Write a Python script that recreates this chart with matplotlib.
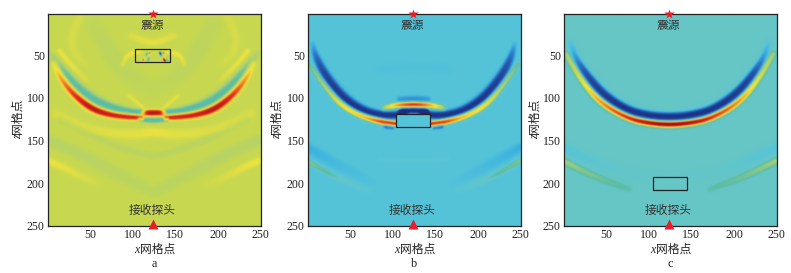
import numpy as np
import matplotlib
matplotlib.use("Agg")
import matplotlib.pyplot as plt
from matplotlib.colors import LinearSegmentedColormap
from matplotlib.patches import Rectangle

plt.rcParams['font.family'] = ['Liberation Serif', 'Noto Sans CJK SC']

panel_names = ['a', 'b', 'c']
tick_values = [50, 100, 150, 200, 250]
source_label = '震源'
receiver_label = '接收探头'
axis_suffix = '网格点'
source_x, source_z = 124, 1
receiver_x, receiver_z = 124, 249
boxes = {'a': (103, 43, 41, 15), 'b': (104, 118.5, 40, 15.5), 'c': (104.5, 193, 40, 15.5)}
backgrounds = {'a': 0.585, 'b': 0.33, 'c': 0.40}

# Wavefronts: x, z, value offset, half-width; True = mirrored about the centre
bands_a = [
    ([8, 18, 33, 53, 76, 96, 110], [59, 79, 97, 113, 120, 122, 123], [.12, .24, .33, .38, .33, .33, .30], [2.4, 3, 3.4, 3.4, 2.8, 2.6, 2.2], True),
    ([114, 124, 135], [117, 117, 117], [.33, .38, .33], [2.6, 2.8, 2.6], False),
    ([2, 18, 37, 61, 92, 112], [46, 68, 90, 106, 115, 116], [-.03, -.15, -.165, -.165, -.165, -.165], [2.8, 4, 5, 4.5, 3.2, 2.5], True),
    ([108, 124, 140], [125, 126, 125], [-.165, -.17, -.165], [2, 2.5, 2], False),
    ([10, 41, 80, 105, 124], [118, 134, 142, 142, 140], [.03, .04, .05, .06, .07], [4, 4, 4, 4, 4], True),
    ([2, 18, 37, 60], [174, 181, 191, 201], [.08, .07, .04, .01], [3, 3, 3, 3], True),
    ([2, 40, 70, 124], [150, 166, 183, 210], [-.04, -.04, -.03, -.03], [5, 5, 6, 5], True),
    ([15, 50, 90, 124], [125, 143, 160, 168], [-.03, -.03, -.03, -.03], [3, 3, 3, 3], True),
    ([98, 123, 149], [26, 36, 26], [.04, .07, .04], [2.5, 3, 2.5], False),
    ([88, 94, 108], [60, 48, 45], [.06, .08, .07], [2, 2, 2], True),
    ([37, 27, 31, 45], [5, 28, 48, 60], [.03, .03, .03, .01], [3.5, 3.5, 3, 3], True),
    ([14, 27, 45], [44, 60, 78], [.07, .07, .03], [2, 2, 2], True),
    ([96, 112], [97, 111], [.05, .07], [1.8, 1.5], True),
    ([55, 70, 90, 124], [15, 40, 70, 90], [-.02, -.025, -.025, -.015], [8, 8, 8, 8], True),
    ([112, 117], [55, 47], [.3, -.3], [.8, .8], True),
    ([118, 120], [55, 46], [-.35, .3], [.7, .7], False),
    ([132, 138], [46, 56], [-.4, .35], [1, 1], False),
    ([136, 141], [46, 56], [.3, -.3], [.7, .7], False),
]
bands_b = [
    ([6, 10, 22, 41, 65, 88, 104, 113], [36, 52, 75, 99, 115, 120, 120, 117], [-.06, -.2, -.27, -.3, -.31, -.31, -.31, -.31], [2, 3.2, 4.2, 4.4, 4, 3.4, 3.2, 3], True),
    ([110, 124, 139], [116, 114, 116], [-.3, -.33, -.3], [2.5, 2.5, 2.5], False),
    ([2, 22, 39, 61, 88, 104], [60, 87, 107, 120, 128, 130], [.1, .23, .37, .43, .55, .55], [2.4, 2.6, 2.8, 2.6, 2.6, 2.4], True),
    ([90, 104, 124, 145, 159], [111, 108, 107, 108, 111], [.18, .45, .58, .45, .18], [2.5, 2.2, 2.2, 2.2, 2.5], False),
    ([108, 124, 141], [101, 100, 101], [-.1, -.12, -.1], [2.5, 2.5, 2.5], False),
    ([92, 100], [133, 134], [-.2, -.15], [2, 2], True),
    ([0, 33, 65, 85], [158, 177, 193, 203], [-.07, -.04, -.02, 0], [4, 4.5, 4, 3], True),
    ([0, 33, 72], [174, 193, 209], [.13, .08, .02], [2.5, 2.5, 2.5], True),
    ([85, 124, 165], [66, 62, 66], [-.01, -.012, -.01], [5, 5, 5], False),
    ([85, 124, 165], [172, 174, 172], [.03, .03, .03], [1.5, 1.5, 1.5], False),
]
bands_c = [
    ([8, 14, 26, 46, 73, 98, 124, 150, 176, 203, 223, 235, 241],
     [34, 52, 71, 95, 113, 120, 122, 120, 113, 95, 71, 52, 34],
     [-.07, -.18, -.32, -.36, -.38, -.38, -.38, -.38, -.38, -.36, -.32, -.18, -.07],
     [2.5, 3, 3.8, 4.2, 3.9, 3.8, 3.8, 3.8, 3.9, 4.2, 3.8, 3, 2.5], False),
    ([3, 24, 46, 77, 100, 124, 149, 172, 203, 225, 246],
     [48, 83, 107, 124, 129, 131, 129, 124, 107, 83, 48],
     [.1, .27, .42, .5, .57, .6, .57, .5, .42, .27, .1],
     [2.2, 2.3, 2.6, 2.6, 2.6, 2.6, 2.6, 2.6, 2.6, 2.3, 2.2], False),
    ([0, 38, 77, 124], [158, 177, 189, 193], [-.07, -.03, -.015, -.005], [4, 5, 4, 4], True),
    ([0, 38, 77], [174, 193, 207], [.1, .05, .015], [2.5, 2.5, 2.5], True),
]
bands = {'a': bands_a, 'b': bands_b, 'c': bands_c}

cmap = LinearSegmentedColormap.from_list('wave', [
    (0.00, '#1c2c80'), (0.08, '#224a9e'), (0.18, '#2f7cc8'), (0.27, '#3fb4e0'),
    (0.33, '#55c4d8'), (0.40, '#66c6c6'), (0.42, '#58bca6'), (0.50, '#a2ce7c'), (0.585, '#c8d850'),
    (0.68, '#f5e53a'), (0.78, '#f39a2e'), (0.88, '#e62a20'), (1.00, '#8c1018')])


def round_corners(p):
    """Chaikin corner cutting of the read vertices so that the stroke is not kinked."""
    if p.shape[1] <= 2:
        return p
    for _ in range(3):
        cut = [p[:, :1]]
        for i in range(p.shape[1] - 1):
            cut.append((0.75 * p[:, i] + 0.25 * p[:, i + 1])[:, None])
            cut.append((0.25 * p[:, i] + 0.75 * p[:, i + 1])[:, None])
        cut.append(p[:, -1:])
        p = np.concatenate(cut, axis=1)
    return p


def add_band(X, Z, xs, zs, amps, sigs):
    xs, zs, amps, sigs = round_corners(np.array([xs, zs, amps, sigs], float))
    best = np.full(X.shape, np.inf)
    out = np.zeros(X.shape)
    for i in range(len(xs) - 1):
        dx, dz = xs[i + 1] - xs[i], zs[i + 1] - zs[i]
        t = np.clip(((X - xs[i]) * dx + (Z - zs[i]) * dz) / max(dx * dx + dz * dz, 1e-9), 0, 1)
        d2 = (X - xs[i] - t * dx) ** 2 + (Z - zs[i] - t * dz) ** 2
        a = amps[i] + t * (amps[i + 1] - amps[i])
        s = sigs[i] + t * (sigs[i + 1] - sigs[i])
        val = a * np.exp(-(d2 / (2 * s * s)) ** 1.4)
        m = d2 < best
        best[m] = d2[m]
        out[m] = val[m]
    return out


gx, gz = np.meshgrid(np.arange(1, 251, 1.0), np.arange(1, 251, 1.0))
fig = plt.figure(figsize=(7.91, 2.73), dpi=100)
W, H = 791, 273
lefts = [48.3, 308.3, 564.3]
ylab_x = [18, 277, 535]
for left, ylx, name in zip(lefts, ylab_x, panel_names):
    ax = fig.add_axes([left / W, 1 - 225.7 / H, 212.5 / W, 212 / H])
    f = np.full(gx.shape, backgrounds[name])
    for xs, zs, amps, sigs, mirror in bands[name]:
        one = add_band(gx, gz, xs, zs, amps, sigs)
        if mirror:
            other = add_band(gx, gz, [249 - v for v in xs], zs, amps, sigs)
            one = np.where(np.abs(one) > np.abs(other), one, other)
        f += one
    ax.imshow(f, cmap=cmap, vmin=0, vmax=1, extent=(1, 250, 250, 1), aspect='auto', interpolation='bicubic')
    bx, bz, bw, bh = boxes[name]
    fc = 'none' if name == 'a' else cmap(backgrounds[name])
    ax.add_patch(Rectangle((bx, bz), bw, bh, fc=fc, ec='#222222', lw=0.9, zorder=3))
    ax.plot([source_x], [source_z + 0.5], marker='*', ms=7.5, color='#ea1c2c', mec='none', clip_on=False, zorder=5)
    ax.plot([receiver_x], [receiver_z - 1], marker='^', ms=6.5, color='#ea1c2c', mec='none', clip_on=False, zorder=5)
    ax.text(source_x - 1, 15, source_label, ha='center', va='center', fontsize=8.5, color='#333333')
    ax.text(source_x - 1, 233, receiver_label, ha='center', va='center', fontsize=8.5, color='#333333')
    ax.set_xlim(1, 250)
    ax.set_ylim(250, 1)
    ax.set_xticks(tick_values)
    ax.set_yticks(tick_values)
    ax.tick_params(length=0, pad=2.5, labelsize=8.6, labelcolor='#222222')
    for sp in ax.spines.values():
        sp.set_linewidth(0.9)
        sp.set_color('#222222')
    fig.text((left + 91) / W, 1 - 250 / H, 'x', style='italic', fontsize=8.6, ha='right', va='center', color='#222222')
    fig.text((left + 91.5) / W, 1 - 250 / H, axis_suffix, fontsize=8.5, ha='left', va='center', color='#222222')
    fig.text(ylx / W, 1 - 139 / H, 'z', style='italic', fontsize=8.6, rotation=90, ha='center', va='bottom', color='#222222')
    fig.text(ylx / W, 1 - 133.5 / H, axis_suffix, fontsize=8.5, rotation=90, ha='center', va='bottom', color='#222222')
    fig.text((left + 106) / W, 1 - 264 / H, name, fontsize=8.8, ha='center', va='center', color='#222222')

fig.savefig('out.png', dpi=100)
